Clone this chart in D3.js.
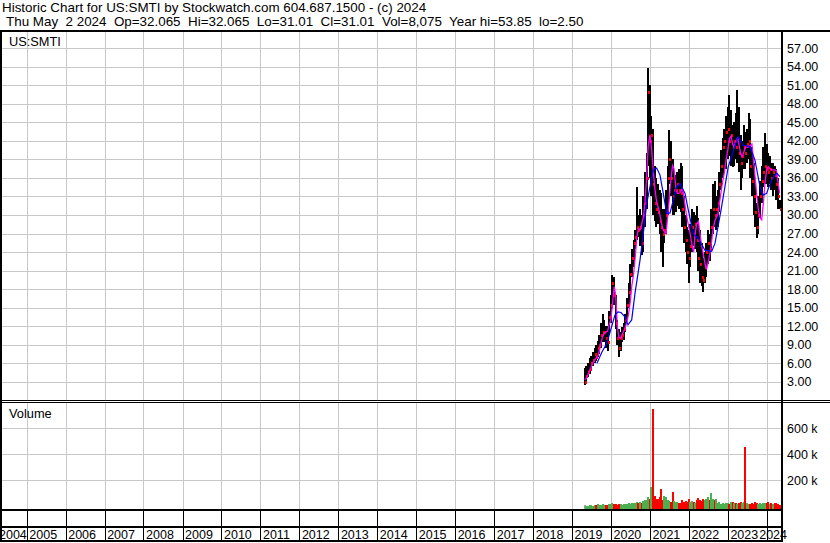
<!DOCTYPE html>
<html><head><meta charset="utf-8">
<script src="https://cdn.jsdelivr.net/npm/d3@7"></script>
<style>
html,body{margin:0;padding:0;background:#fff;}
svg{display:block;font-family:"Liberation Sans",Arial,sans-serif;}
text{white-space:pre;}
</style></head><body>
<svg id="chart" width="830" height="543"></svg>
<script>
// ---------- data ----------
const headerLine1 = "Historic Chart for US:SMTI by Stockwatch.com 604.687.1500 - (c) 2024";
const headerLine2 = "Thu May  2 2024  Op=32.065  Hi=32.065  Lo=31.01  Cl=31.01  Vol=8,075  Year hi=53.85  lo=2.50";
const symbolLabel = "US:SMTI";
const volumeLabel = "Volume";
const priceTicks = [3,6,9,12,15,18,21,24,27,30,33,36,39,42,45,48,51,54,57];
const volumeTicks = [200,400,600]; // thousands
const years = [2004,2005,2006,2007,2008,2009,2010,2011,2012,2013,2014,2015,2016,2017,2018,2019,2020,2021,2022,2023,2024];

const dates = [
"2019-05-01","2019-05-15","2019-06-01","2019-06-15","2019-07-01","2019-07-15","2019-08-01","2019-08-15","2019-09-01","2019-09-15","2019-10-01","2019-10-15","2019-11-01","2019-11-15","2019-12-01","2019-12-15",
"2020-01-01","2020-01-15","2020-02-01","2020-02-15","2020-03-01","2020-03-15","2020-04-01","2020-04-15","2020-05-01","2020-05-15","2020-06-01","2020-06-15","2020-07-01","2020-07-15","2020-08-01","2020-08-15","2020-09-01","2020-09-15","2020-10-01","2020-10-15","2020-11-01","2020-11-15","2020-12-01","2020-12-15",
"2021-01-01","2021-01-15","2021-02-01","2021-02-15","2021-03-01","2021-03-15","2021-04-01","2021-04-15","2021-05-01","2021-05-15","2021-06-01","2021-06-15","2021-07-01","2021-07-15","2021-08-01","2021-08-15","2021-09-01","2021-09-15","2021-10-01","2021-10-15","2021-11-01","2021-11-15","2021-12-01","2021-12-15",
"2022-01-01","2022-01-15","2022-02-01","2022-02-15","2022-03-01","2022-03-15","2022-04-01","2022-04-15","2022-05-01","2022-05-15","2022-06-01","2022-06-15","2022-07-01","2022-07-15","2022-08-01","2022-08-15","2022-09-01","2022-09-15","2022-10-01","2022-10-15","2022-11-01","2022-11-15","2022-12-01","2022-12-15",
"2023-01-01","2023-01-15","2023-02-01","2023-02-15","2023-03-01","2023-03-15","2023-04-01","2023-04-15","2023-05-01","2023-05-15","2023-06-01","2023-06-15","2023-07-01","2023-07-15","2023-08-01","2023-08-15","2023-09-01","2023-09-15","2023-10-01","2023-10-15","2023-11-01","2023-11-15","2023-12-01","2023-12-15",
"2024-01-01","2024-01-15","2024-02-01","2024-02-15","2024-03-01","2024-03-15","2024-04-01","2024-04-15","2024-05-01"];

const high = [
5.2,5.5,6.0,6.8,7.2,7.8,8.5,9.0,9.6,10.5,12.5,14.0,13.0,12.0,12.0,14.5,
17.0,20.3,20.0,17.0,13.0,11.5,11.0,11.8,12.5,14.0,16.5,19.0,22.0,24.5,26.0,27.5,34.5,30.0,31.0,30.0,33.0,37.0,40.0,53.85,
51.0,46.0,44.0,38.0,36.0,35.0,34.0,33.5,31.0,31.0,34.0,38.0,43.8,42.0,39.0,37.0,36.5,37.0,37.5,38.5,38.0,33.0,30.0,28.0,
27.5,28.5,31.0,30.5,30.0,31.5,29.5,27.5,25.5,23.0,24.0,25.5,27.5,27.0,31.0,35.0,35.5,33.0,34.0,37.0,40.5,42.5,44.0,46.0,
47.5,49.4,47.0,44.5,45.0,46.5,50.2,47.5,43.0,42.0,44.5,43.5,44.0,46.5,45.5,41.0,38.5,35.0,32.0,33.0,35.5,38.0,41.0,43.3,
41.5,40.0,39.5,38.5,38.5,38.0,37.5,36.0,32.5];

const low = [
2.5,3.0,3.8,4.2,4.8,5.5,6.0,6.3,7.0,7.5,8.5,9.5,9.5,8.5,8.0,10.5,
12.5,15.0,15.5,11.5,9.0,7.0,8.0,9.5,9.8,11.0,13.0,15.0,17.0,20.0,21.5,24.5,26.0,26.5,25.0,23.5,24.0,28.0,31.0,38.0,
36.0,33.0,30.0,29.0,28.0,28.5,27.0,24.0,21.5,25.5,27.0,30.0,35.0,33.0,30.0,30.0,30.5,31.5,31.0,30.5,28.0,25.5,24.0,22.0,
19.0,21.5,24.0,25.0,24.5,24.0,21.0,19.0,18.5,17.6,19.0,20.0,22.0,22.5,24.5,27.0,28.0,27.5,28.0,30.5,34.0,36.0,37.5,37.5,
39.0,39.5,38.0,37.8,38.0,39.0,38.5,37.0,34.0,36.0,37.5,37.5,38.5,39.0,36.0,33.0,30.0,28.0,26.3,27.0,29.5,32.0,34.5,35.0,
35.0,34.5,35.0,34.0,33.0,34.0,32.5,31.0,31.0];

const close = [
3.0,4.0,4.5,5.0,6.0,6.5,7.5,7.0,8.5,9.0,10.5,11.0,11.0,10.0,9.5,13.5,
15.5,19.0,17.0,12.5,10.0,8.5,10.0,10.5,11.5,13.0,15.5,17.5,20.5,23.0,25.5,26.5,28.0,27.5,28.0,25.5,30.0,32.0,36.0,50.0,
42.0,43.0,35.0,32.0,31.0,30.5,29.0,28.0,27.0,27.5,30.0,36.0,39.0,36.0,33.0,34.0,34.0,35.0,34.0,33.5,31.0,28.0,26.0,24.0,
23.0,25.0,28.0,27.0,28.5,26.0,23.0,22.0,20.0,19.5,21.5,24.0,25.5,24.5,28.0,31.0,30.0,31.0,32.0,35.0,38.0,41.0,42.0,43.5,
44.0,42.0,43.0,41.0,42.0,41.0,42.5,40.0,38.5,39.5,41.0,40.0,41.5,42.0,38.0,35.5,33.0,30.5,28.0,30.0,33.0,35.5,37.0,38.0,
37.5,37.0,37.5,36.0,37.0,36.5,35.0,33.0,31.0];

// short moving average (magenta) at the same dates
const maShort = [
3.3,3.5,4.2,4.8,5.4,6.0,6.5,6.8,7.2,8.0,9.3,10.3,10.9,11.0,11.2,12.2,
13.0,15.5,18.4,17.0,12.0,10.3,10.0,10.6,11.2,11.8,12.8,14.0,16.0,18.5,20.5,23.0,26.5,27.8,27.6,28.5,29.7,32.0,36.0,41.0,
43.0,41.0,37.3,34.5,32.6,31.5,30.4,29.0,27.8,27.3,27.0,29.5,32.5,35.5,38.0,37.5,34.5,33.5,33.5,33.7,34.3,33.0,31.0,29.5,
28.0,26.8,25.0,24.0,27.0,28.5,29.0,27.0,25.0,23.8,22.2,21.2,22.3,23.5,25.5,27.5,29.0,29.6,30.2,32.0,34.0,35.5,37.0,38.8,
40.5,42.3,42.8,41.5,41.0,41.8,42.4,41.5,40.0,39.4,40.2,41.0,41.0,41.0,41.3,41.5,38.5,36.0,33.0,30.8,29.5,29.2,32.0,35.0,
37.5,37.8,37.5,37.3,37.3,37.3,37.2,35.5,33.5];

// long moving average (blue)
const maLongDates = ["2019-08-23","2019-10-09","2019-11-24","2020-01-01","2020-02-08","2020-03-07","2020-04-04","2020-05-12","2020-06-09","2020-07-14","2020-08-14","2020-09-11","2020-09-30","2020-10-31","2020-12-02","2021-01-02","2021-02-02","2021-03-05","2021-04-05","2021-05-06","2021-06-07","2021-07-08","2021-08-08","2021-09-09","2021-10-10","2021-11-26","2021-12-27","2022-02-12","2022-03-31","2022-06-01","2022-08-03","2022-09-03","2022-11-04","2023-01-05","2023-03-08","2023-04-08","2023-05-26","2023-07-27","2023-09-13","2023-10-30","2023-11-29","2023-12-31","2024-02-16","2024-04-03","2024-05-03"];
const maLong = [6.0,7.8,9.2,11.5,13.8,14.3,14.2,13.5,12.2,13.0,17.3,20.5,22.7,27.0,31.9,34.6,37.3,37.6,36.5,33.5,30.3,30.3,32.4,34.6,35.1,33.5,30.8,27.0,26.2,24.3,24.1,25.4,31.3,37.8,41.1,42.7,41.3,41.1,38.9,34.6,33.2,33.5,35.7,36.8,36.2];

// volume in thousands of shares
const volume = [
8,6,5,7,9,6,10,8,14,9,12,16,10,8,12,14,
18,22,16,20,12,18,14,10,16,20,18,24,20,26,22,28,35,24,30,26,40,48,45,75,
55,146,746,80,60,55,70,131,50,79,75,45,40,35,110,40,30,35,28,25,45,30,38,32,
60,35,40,30,28,45,65,50,40,55,45,60,70,50,105,60,45,55,25,30,20,25,18,22,
28,20,35,30,25,22,20,25,30,28,32,456,25,20,18,25,20,30,22,18,26,20,24,28,
22,30,18,24,20,26,22,18,12];

// ---------- drawing ----------
const parse = d3.timeParse("%Y-%m-%d");
const W = 830, H = 543;
const axisX = 781;           // right axis line
const priceTop = 32, priceBottom = 400;
const volTop = 403, volBottom = 509;
const gridColor = "#c8c8c8";

const svg = d3.select("#chart");
svg.append("rect").attr("width", W).attr("height", H).attr("fill", "#fff");

const x = d3.scaleTime().domain([new Date(2005,0,1), new Date(2024,0,1)]).range([26.7, 766.7]);
const y = d3.scaleLinear().domain([0, 57]).range([400.2, 48.3]);
const yv = d3.scaleLinear().domain([0, 600]).range([506.3, 428.3]);

const pts = dates.map((d,i) => ({date: parse(d), hi: high[i], lo: low[i], cl: close[i], ma: maShort[i], vol: volume[i], up: i === 0 ? null : close[i] >= close[i-1]}));
const longPts = maLongDates.map((d,i) => ({date: parse(d), v: maLong[i]}));

const crisp = v => Math.round(v) + 0.5;
const yearX = yr => crisp(x(new Date(yr,0,1)));

// gridlines
const grid = svg.append("g").attr("shape-rendering","crispEdges");
grid.selectAll(".hp").data(priceTicks).join("line")
  .attr("x1", 2).attr("x2", axisX).attr("y1", d => crisp(y(d))).attr("y2", d => crisp(y(d)))
  .attr("stroke", gridColor);
grid.selectAll(".hv").data(volumeTicks).join("line").attr("class","hv")
  .attr("x1", 2).attr("x2", axisX).attr("y1", d => crisp(yv(d))).attr("y2", d => crisp(yv(d)))
  .attr("stroke", gridColor);
const gridYears = years.filter(yr => x(new Date(yr,0,1)) > 2);
grid.selectAll(".vp").data(gridYears).join("line").attr("class","vp")
  .attr("x1", yearX).attr("x2", yearX).attr("y1", priceTop).attr("y2", priceBottom)
  .attr("stroke", gridColor);
grid.selectAll(".vv").data(gridYears).join("line").attr("class","vv")
  .attr("x1", yearX).attr("x2", yearX).attr("y1", volTop).attr("y2", volBottom)
  .attr("stroke", gridColor);
grid.selectAll(".vb").data(gridYears).join("line").attr("class","vb")
  .attr("x1", yearX).attr("x2", yearX).attr("y1", 511).attr("y2", 540)
  .attr("stroke", "#000");

// price bars
const bars = svg.append("g").attr("shape-rendering","crispEdges");
bars.selectAll("rect").data(pts).join("rect")
  .attr("x", d => Math.round(x(d.date)) - 1).attr("width", 2)
  .attr("y", d => Math.round(y(d.hi)))
  .attr("height", d => Math.max(1, Math.round(y(d.lo)) - Math.round(y(d.hi))))
  .attr("fill", "#000");
// close marks
svg.append("g").attr("shape-rendering","crispEdges").selectAll("rect").data(pts).join("rect")
  .attr("x", d => Math.round(x(d.date))).attr("width", 2)
  .attr("y", d => Math.round(y(d.cl)) - 1).attr("height", 3)
  .attr("fill", "#ff0000");

// moving averages
const lineShort = d3.line().x(d => x(d.date)).y(d => y(d.ma));
const lineLong = d3.line().x(d => x(d.date)).y(d => y(d.v));
svg.append("path").datum(pts).attr("d", lineShort).attr("fill","none").attr("stroke","#ff00ff").attr("stroke-width",1.3);
svg.append("path").datum(longPts).attr("d", lineLong).attr("fill","none").attr("stroke","#0000ff").attr("stroke-width",1.2);

// volume bars
svg.append("g").attr("shape-rendering","crispEdges").selectAll("rect").data(pts).join("rect")
  .attr("x", d => Math.round(x(d.date)) - 1).attr("width", 2)
  .attr("y", d => Math.round(yv(d.vol)))
  .attr("height", d => volBottom - Math.round(yv(d.vol)))
  .attr("fill", d => d.up === null ? "#a0a0a0" : (d.up ? "#4caf50" : "#ff0000"));

// frame lines
const frame = svg.append("g").attr("shape-rendering","crispEdges").attr("fill","#000");
frame.append("rect").attr("x",0).attr("y",30).attr("width",W).attr("height",2);
frame.append("rect").attr("x",0).attr("y",30).attr("width",2).attr("height",512);
frame.append("rect").attr("x",axisX).attr("y",30).attr("width",2).attr("height",511);
frame.append("rect").attr("x",0).attr("y",400).attr("width",W).attr("height",1);
frame.append("rect").attr("x",0).attr("y",402).attr("width",W).attr("height",1);
frame.append("rect").attr("x",0).attr("y",509).attr("width",axisX+2).attr("height",2);
frame.append("rect").attr("x",0).attr("y",526).attr("width",axisX+2).attr("height",2);
frame.append("rect").attr("x",0).attr("y",540).attr("width",axisX+2).attr("height",2);

// right axes
const fmt = d3.format(".2f");
const gy = svg.append("g").attr("transform", `translate(${axisX},0)`)
  .call(d3.axisRight(y).tickValues(priceTicks).tickFormat(fmt).tickSize(0).tickPadding(6));
const gv = svg.append("g").attr("transform", `translate(${axisX},0)`)
  .call(d3.axisRight(yv).tickValues(volumeTicks).tickFormat(d => d + " k").tickSize(0).tickPadding(6));
[gy, gv].forEach(g => {
  g.select(".domain").remove();
  g.selectAll("text").attr("font-family", '"Liberation Sans", Arial, sans-serif')
    .attr("font-size", "12.5px").attr("fill", "#000");
});

// year labels
const yearFont = 12.5;
svg.append("g").selectAll("text").data(years).join("text")
  .attr("x", yr => {
    const gx = x(new Date(yr,0,1)) + 2.6;
    const w = 4 * 0.556 * yearFont;
    return Math.min(Math.max(-1, gx), 787 - w);
  })
  .attr("y", 539)
  .attr("font-size", yearFont + "px").attr("fill", "#000")
  .text(yr => String(yr));

// header & labels
svg.append("text").attr("x", 2).attr("y", 12).attr("font-size", "13.4px").attr("fill","#000").text(headerLine1);
svg.append("text").attr("x", 6).attr("y", 26).attr("font-size", "13.4px").attr("fill","#000").text(headerLine2);
svg.append("text").attr("x", 9).attr("y", 46).attr("font-size", "12.8px").attr("fill","#000").text(symbolLabel);
svg.append("text").attr("x", 9).attr("y", 418).attr("font-size", "12.8px").attr("fill","#000").text(volumeLabel);
</script>
</body></html>
